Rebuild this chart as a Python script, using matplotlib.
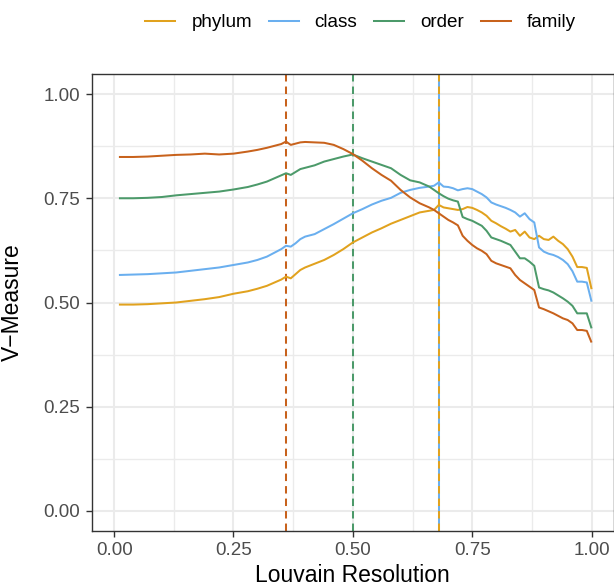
import matplotlib
matplotlib.use("Agg")
import matplotlib.pyplot as plt
from matplotlib.lines import Line2D
import numpy as np

plt.rcParams['font.family'] = ['Liberation Sans', 'DejaVu Sans']

# ---- data ----
resolution = [0.01, 0.04, 0.07, 0.10, 0.13, 0.16, 0.19, 0.22, 0.25, 0.28, 0.30, 0.32, 0.34,
              0.35, 0.36, 0.37, 0.38, 0.39, 0.40, 0.42, 0.44, 0.46, 0.48, 0.50, 0.52, 0.54,
              0.56, 0.58, 0.60, 0.62, 0.64, 0.66, 0.67, 0.68, 0.69, 0.70, 0.71, 0.72, 0.73,
              0.74, 0.75, 0.76, 0.77, 0.78, 0.79, 0.80, 0.81, 0.82, 0.83, 0.84, 0.85, 0.86,
              0.87, 0.88, 0.89, 0.90, 0.91, 0.92, 0.93, 0.94, 0.95, 0.96, 0.97, 0.98, 0.99, 1.00]

phylum = [0.495, 0.495, 0.496, 0.498, 0.500, 0.504, 0.508, 0.513, 0.521, 0.527, 0.533, 0.540, 0.550,
          0.555, 0.562, 0.558, 0.568, 0.578, 0.584, 0.593, 0.602, 0.614, 0.628, 0.644, 0.656, 0.668,
          0.678, 0.689, 0.698, 0.707, 0.716, 0.720, 0.722, 0.734, 0.728, 0.726, 0.724, 0.722, 0.724,
          0.729, 0.727, 0.722, 0.716, 0.708, 0.696, 0.690, 0.683, 0.677, 0.670, 0.674, 0.660, 0.670,
          0.656, 0.652, 0.660, 0.652, 0.650, 0.658, 0.648, 0.640, 0.628, 0.610, 0.585, 0.585, 0.583, 0.532]

klass = [0.566, 0.567, 0.568, 0.570, 0.572, 0.576, 0.580, 0.584, 0.590, 0.596, 0.602, 0.610, 0.622,
         0.628, 0.636, 0.634, 0.642, 0.652, 0.658, 0.664, 0.676, 0.688, 0.701, 0.714, 0.724, 0.735,
         0.744, 0.751, 0.763, 0.770, 0.775, 0.778, 0.780, 0.788, 0.778, 0.777, 0.774, 0.769, 0.772,
         0.774, 0.772, 0.766, 0.760, 0.752, 0.740, 0.735, 0.731, 0.727, 0.722, 0.716, 0.706, 0.714,
         0.700, 0.692, 0.632, 0.622, 0.617, 0.614, 0.609, 0.602, 0.592, 0.575, 0.550, 0.550, 0.548, 0.502]

order = [0.750, 0.750, 0.751, 0.753, 0.757, 0.760, 0.763, 0.766, 0.771, 0.777, 0.783, 0.790, 0.800,
         0.805, 0.810, 0.806, 0.813, 0.820, 0.823, 0.829, 0.838, 0.844, 0.850, 0.855, 0.846, 0.838,
         0.830, 0.822, 0.806, 0.793, 0.788, 0.778, 0.770, 0.762, 0.755, 0.749, 0.745, 0.742, 0.705,
         0.700, 0.696, 0.690, 0.684, 0.672, 0.656, 0.652, 0.648, 0.643, 0.638, 0.622, 0.606, 0.606,
         0.598, 0.588, 0.536, 0.532, 0.529, 0.524, 0.517, 0.510, 0.502, 0.492, 0.474, 0.474, 0.474, 0.438]

family = [0.849, 0.849, 0.850, 0.852, 0.854, 0.855, 0.857, 0.855, 0.857, 0.862, 0.866, 0.871, 0.877,
          0.880, 0.886, 0.878, 0.881, 0.884, 0.885, 0.884, 0.883, 0.878, 0.868, 0.856, 0.840, 0.822,
          0.806, 0.792, 0.770, 0.752, 0.738, 0.728, 0.722, 0.714, 0.706, 0.698, 0.692, 0.685, 0.660,
          0.648, 0.638, 0.630, 0.624, 0.616, 0.600, 0.594, 0.590, 0.586, 0.582, 0.566, 0.554, 0.546,
          0.538, 0.530, 0.488, 0.484, 0.479, 0.474, 0.468, 0.462, 0.458, 0.450, 0.434, 0.434, 0.432, 0.404]

taxa = ["phylum", "class", "order", "family"]
series = [phylum, klass, order, family]
best_resolution = [0.68, 0.68, 0.50, 0.36]
colors = ["#E1A21E", "#6AAFEF", "#4C9A6A", "#C8621C"]

x_ticks = [0.00, 0.25, 0.50, 0.75, 1.00]
y_ticks = [0.00, 0.25, 0.50, 0.75, 1.00]
x_minor = [0.125, 0.375, 0.625, 0.875]
y_minor = [0.125, 0.375, 0.625, 0.875]

# ---- figure ----
W, H = 614, 586
fig = plt.figure(figsize=(W / 100, H / 100), dpi=100)
left, right, bottom, top = 91.7, 614.0, 531.0, 74.0
ax = fig.add_axes([left / W, 1 - bottom / H, (right - left) / W, (bottom - top) / H])

lw = 1.45
for name, vals, col in zip(taxa, series, colors):
    ax.plot(resolution, vals, color=col, lw=lw, solid_capstyle='butt', zorder=3)

# vertical dashed lines at optimal resolution (class one drawn underneath, so it shows in the gaps)
for name, xv, col in zip(taxa, best_resolution, colors):
    if name == "class":
        ax.axvline(xv, color=col, lw=lw, linestyle='-', zorder=2)
    else:
        ax.axvline(xv, color=col, lw=lw, linestyle=(0, (3.7, 2.5)), zorder=2.5)

ax.set_xlim(-0.047, 1.047)
ax.set_ylim(-0.048, 1.048)
ax.set_xticks(x_ticks)
ax.set_xticklabels([f"{v:.2f}" for v in x_ticks])
ax.set_yticks(y_ticks)
ax.set_yticklabels([f"{v:.2f}" for v in y_ticks])
ax.set_xticks(x_minor, minor=True)
ax.set_yticks(y_minor, minor=True)

ax.grid(True, which='major', color='#EBEBEB', lw=1.5, zorder=0)
ax.grid(True, which='minor', color='#EBEBEB', lw=1.0, zorder=0)
ax.set_axisbelow(True)

ax.tick_params(axis='both', which='major', length=4.2, width=1.0, color='#333333',
               labelsize=13.5, labelcolor='#4D4D4D', pad=4)
ax.tick_params(axis='both', which='minor', length=0)
for sp in ax.spines.values():
    sp.set_color('#333333')
    sp.set_linewidth(1.0)

ax.set_xlabel("Louvain Resolution", fontsize=16.5, color='black')
ax.set_ylabel("V\u2212Measure", fontsize=16.5, color='black')
ax.xaxis.label.set_va('baseline')
ax.xaxis.set_label_coords(0.5, (bottom - 581.5) / (bottom - top))
ax.yaxis.set_label_coords((24 - left) / (right - left), 0.5)

handles = [Line2D([0], [0], color=c, lw=lw) for c in colors]
fig.legend(handles, taxa, loc='center', bbox_to_anchor=(360.5 / W, 1 - 22.7 / H),
           ncol=4, frameon=False, fontsize=13.6, handlelength=1.59, handletextpad=0.85,
           columnspacing=0.88, borderpad=0, borderaxespad=0)

fig.savefig("out.png", dpi=100)
